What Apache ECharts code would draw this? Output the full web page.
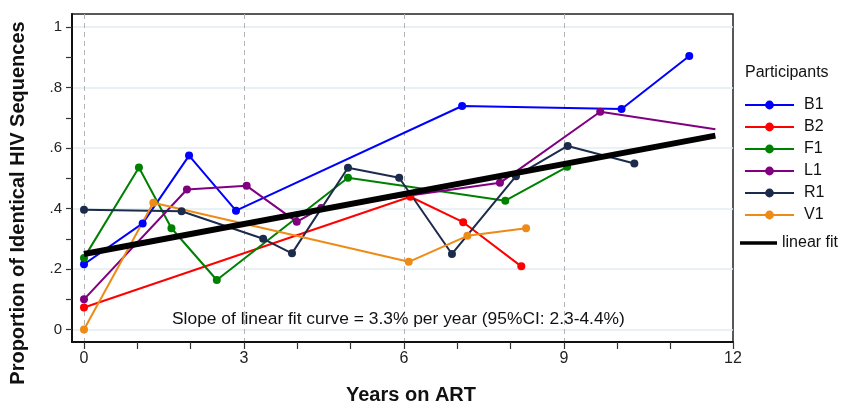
<!DOCTYPE html>
<html><head><meta charset="utf-8">
<script src="https://cdn.jsdelivr.net/npm/echarts@6/dist/echarts.min.js"></script>
<style>html,body{margin:0;padding:0;background:#fff}#c{width:844px;height:407px}</style>
</head><body><div id="c"></div>
<script>
// ---- data ----
const participants = ['B1', 'B2', 'F1', 'L1', 'R1', 'V1'];
const B1 = [[0, 0.216], [1.10, 0.351], [1.97, 0.575], [2.85, 0.393], [7.09, 0.739], [10.08, 0.729], [11.35, 0.904]];
const B2 = [[0, 0.073], [6.12, 0.439], [7.11, 0.355], [8.20, 0.209]];
const F1 = [[0, 0.237], [1.03, 0.536], [1.64, 0.335], [2.49, 0.164], [4.95, 0.502], [7.90, 0.426], [9.06, 0.538]];
const L1 = [[0, 0.100], [1.93, 0.463], [3.05, 0.475], [3.99, 0.356], [4.45, 0.402], [7.80, 0.485], [9.68, 0.720], [11.84, 0.662]];
const R1 = [[0, 0.396], [1.83, 0.391], [3.36, 0.300], [3.90, 0.252], [4.95, 0.535], [5.91, 0.502], [6.90, 0.250], [8.10, 0.507], [9.07, 0.607], [10.32, 0.549]];
const V1 = [[0, 0.000], [1.30, 0.419], [6.09, 0.224], [7.19, 0.310], [8.29, 0.335]];
const linearFit = [[0, 0.250], [11.84, 0.641]];
const xTickValues = [0, 1, 2, 3, 4, 5, 6, 7, 8, 9, 10, 11];
const xLabels = ['0', '3', '6', '9', '12'];
const xGridValues = [0, 3, 6, 9];
const yTickValues = [0, 0.1, 0.2, 0.3, 0.4, 0.5, 0.6, 0.7, 0.8, 0.9, 1];
const yLabelValues = [0, 0.2, 0.4, 0.6, 0.8, 1];
const yLabels = ['0', '.2', '.4', '.6', '.8', '1'];
const annotation = 'Slope of linear fit curve = 3.3% per year (95%CI: 2.3-4.4%)';

// ---- chart ----
const XMIN = -0.225, XMAX = 12.17, YMIN = -0.041, YMAX = 1.043;
const seriesData = { B1, B2, F1, L1, R1, V1 };
const colors = { B1: '#0000ff', B2: '#ff0000', F1: '#008000', L1: '#800080', R1: '#1c2b4c', V1: '#ee8a16' };
const FONT = '"Liberation Sans", Arial, sans-serif';
const xLabelPos = [0, 3, 6, 9, XMAX];

const series = participants.map(name => ({
  name, type: 'line', data: seriesData[name], xAxisIndex: 0, yAxisIndex: 0,
  symbol: 'circle',
  symbolSize: name === 'L1' ? ((v, p) => p.dataIndex === L1.length - 1 ? 0 : 8) : 8,
  lineStyle: { width: 2, color: colors[name] },
  itemStyle: { color: colors[name] },
  emphasis: { disabled: true },
  animation: false
}));
series.push({
  name: 'linear fit', type: 'line', data: linearFit, symbol: 'none', z: 5,
  lineStyle: { width: 6, color: '#000' }, itemStyle: { color: '#000' }, animation: false
});

const chart = echarts.init(document.getElementById('c'), null, { renderer: 'canvas' });
chart.setOption({
  animation: false,
  backgroundColor: '#fff',
  grid: { left: 72, right: 111, top: 14, bottom: 65, show: true, borderColor: '#222', borderWidth: 1.5 },
  title: { text: 'Participants', left: 745, top: 65, padding: 0, textStyle: { fontSize: 16, fontWeight: 'normal', color: '#111', fontFamily: FONT } },
  legend: [
    { data: participants, orient: 'vertical', left: 744, top: 97, padding: 0, itemWidth: 49, itemHeight: 11, itemGap: 6,
      textStyle: { fontSize: 16, color: '#111', fontFamily: FONT, padding: [0, 0, 0, 5] }, selectedMode: false },
    { data: [{ name: 'linear fit', icon: 'path://M0,0 L10,0 L10,1 L0,1 Z' }], orient: 'vertical', left: 740, top: 235, padding: 0,
      itemWidth: 37, itemHeight: 4,
      textStyle: { fontSize: 16, color: '#111', fontFamily: FONT, padding: [0, 0, 0, 0] }, selectedMode: false }
  ],
  xAxis: [
    { type: 'value', min: XMIN, max: XMAX, position: 'bottom',
      axisLine: { show: true, onZero: false, lineStyle: { color: '#111', width: 2 } },
      axisTick: { show: true, customValues: xTickValues.concat([XMAX]), length: 7, lineStyle: { color: '#333', width: 1.2 } },
      axisLabel: { customValues: xLabelPos, margin: 9, fontSize: 16, color: '#222', fontFamily: FONT,
        formatter: v => xLabels[xLabelPos.indexOf(v)] },
      splitLine: { show: false } },
    { type: 'value', min: XMIN, max: XMAX, position: 'bottom',
      axisLine: { show: false, onZero: false }, axisTick: { show: false, customValues: xGridValues },
      axisLabel: { show: false },
      splitLine: { show: true, lineStyle: { color: '#b4b4b4', width: 1, type: [5, 4] } } }
  ],
  yAxis: [
    { type: 'value', min: YMIN, max: YMAX, position: 'left',
      axisLine: { show: true, onZero: false, lineStyle: { color: '#111', width: 2 } },
      axisTick: { show: true, customValues: yTickValues, length: 6, lineStyle: { color: '#333', width: 1.2 } },
      axisLabel: { customValues: yLabelValues, margin: 10, fontSize: 15, color: '#222', fontFamily: FONT,
        formatter: v => yLabels[yLabelValues.indexOf(v)] },
      splitLine: { show: false } },
    { type: 'value', min: YMIN, max: YMAX, position: 'left',
      axisLine: { show: false, onZero: false }, axisTick: { show: false, customValues: yLabelValues },
      axisLabel: { show: false },
      splitLine: { show: true, lineStyle: { color: '#e0eef0', width: 1.5 } } }
  ],
  graphic: [
    { type: 'text', x: 18, y: 203, rotation: Math.PI / 2,
      style: { text: 'Proportion of Identical HIV Sequences', font: 'bold 20px ' + FONT, fill: '#111', textAlign: 'center', textVerticalAlign: 'middle' } },
    { type: 'text', x: 411, y: 395,
      style: { text: 'Years on ART', font: 'bold 20px ' + FONT, fill: '#111', textAlign: 'center', textVerticalAlign: 'middle' } },
    { type: 'text', x: 172, y: 319, z: 10,
      style: { text: annotation, font: '17.4px ' + FONT, fill: '#111', textAlign: 'left', textVerticalAlign: 'middle' } }
  ],
  series
});
</script>
</body></html>
